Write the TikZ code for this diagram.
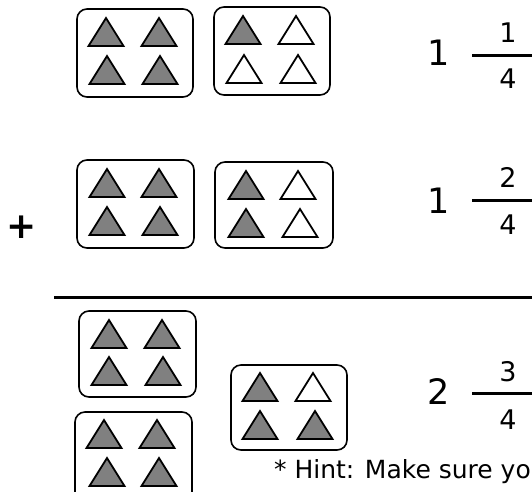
\documentclass[tikz,border=0pt]{standalone}
\usepackage{fontspec}
\setmainfont{DejaVu Sans}
\tikzset{
  card/.style={draw=black, line width=1.6pt, rounded corners=10pt},
  trig/.style={draw=black, line width=1.8pt, line join=miter, fill=black!50},
  triw/.style={draw=black, line width=1.8pt, line join=miter, fill=white},
  whole/.style={font=\fontsize{35}{40}\selectfont, inner sep=0pt},
  fracnum/.style={font=\fontsize{27}{32}\selectfont, inner sep=0pt},
  fracbar/.style={line width=3pt},
  sumline/.style={line width=3pt},
}
\newcommand{\mytri}[3]{\draw[#3] (#1-17.5,#2+28) -- (#1,#2) -- (#1+17.5,#2+28) -- cycle;}
\begin{document}
\begin{tikzpicture}[x=1pt,y=-1pt]
\useasboundingbox (0,0) rectangle (532,491);
\clip (0,0) rectangle (532,491);
% row 1
\draw[card] (77,9) rectangle (193,97);
\mytri{106}{18}{trig}\mytri{159}{18}{trig}\mytri{107}{56}{trig}\mytri{160}{56}{trig}
\draw[card] (214,7) rectangle (330,95);
\mytri{243}{16}{trig}\mytri{296}{16}{triw}\mytri{244}{55}{triw}\mytri{298}{55}{triw}
\node[whole] (w1) at (439,53) {1};
\coordinate (b1s) at (472,55); \coordinate (b1e) at (540,55);
\draw[fracbar] (b1s) -- (b1e);
\node[fracnum] (n1) at (508,33) {1};
\node[fracnum] (d1) at (508,79) {4};
% row 2
\node[font=\bfseries\fontsize{36}{40}\selectfont, inner sep=0pt] (plus) at (22,227) {+};
\draw[card] (77,160) rectangle (194,248);
\mytri{107}{169}{trig}\mytri{159}{169}{trig}\mytri{107}{207}{trig}\mytri{160}{207}{trig}
\draw[card] (215,162) rectangle (333,248);
\mytri{246}{171}{trig}\mytri{298}{171}{triw}\mytri{246}{209}{trig}\mytri{300}{209}{triw}
\node[whole] (w2) at (439,201) {1};
\coordinate (b2s) at (472,200); \coordinate (b2e) at (540,200);
\draw[fracbar] (b2s) -- (b2e);
\node[fracnum] (n2) at (508,177) {2};
\node[fracnum] (d2) at (508,225) {4};
% sum line
\coordinate (ls) at (54,297); \coordinate (le) at (540,297);
\draw[sumline] (ls) -- (le);
% row 3
\draw[card] (79,311) rectangle (196,397);
\mytri{109}{320}{trig}\mytri{162}{320}{trig}\mytri{109}{357}{trig}\mytri{163}{357}{trig}
\draw[card] (75,412) rectangle (192,505);
\mytri{104}{420}{trig}\mytri{157}{420}{trig}\mytri{107}{458}{trig}\mytri{159}{458}{trig}
\draw[card] (231,365) rectangle (347,450);
\mytri{260}{373}{trig}\mytri{313}{373}{triw}\mytri{260}{411}{trig}\mytri{315}{411}{trig}
\node[whole] (w3) at (439,392) {2};
\coordinate (b3s) at (472,393); \coordinate (b3e) at (540,393);
\draw[fracbar] (b3s) -- (b3e);
\node[fracnum] (n3) at (508,372) {3};
\node[fracnum] (d3) at (508,420) {4};
\node[anchor=base east, inner sep=0pt, font=\fontsize{25}{30}\selectfont] (hint) at (531,478) {* Hint: Make sure yo};
\end{tikzpicture}
\end{document}
